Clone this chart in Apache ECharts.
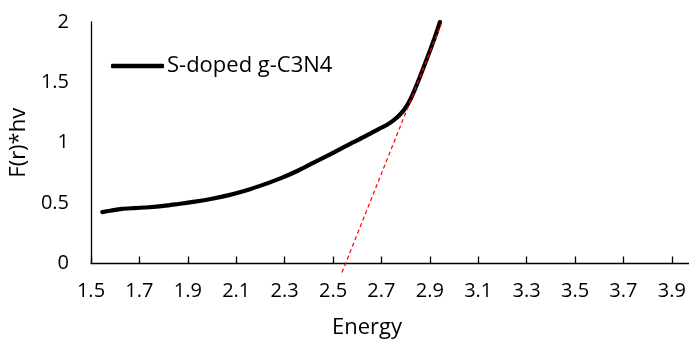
<!DOCTYPE html>
<html>
<head>
<meta charset="utf-8">
<script src="https://cdn.jsdelivr.net/npm/echarts@6/dist/echarts.min.js"></script>
<style>
html,body{margin:0;padding:0;background:#fff;}
#chart{width:689px;height:340px;}
</style>
</head>
<body>
<div id="chart"></div>
<script>
const seriesName = 'S-doped g-C3N4';
const energy = [1.547, 1.58, 1.627, 1.68, 1.74, 1.80, 1.861, 1.93, 2.00, 2.07, 2.14, 2.21, 2.28, 2.35, 2.42, 2.49, 2.557, 2.63, 2.69, 2.72, 2.75, 2.78, 2.80, 2.82, 2.84, 2.86, 2.88, 2.90, 2.92, 2.942];
const frhv = [0.426, 0.437, 0.452, 0.459, 0.466, 0.477, 0.493, 0.512, 0.536, 0.566, 0.604, 0.651, 0.703, 0.764, 0.835, 0.906, 0.977, 1.05, 1.115, 1.145, 1.185, 1.24, 1.29, 1.36, 1.45, 1.55, 1.655, 1.76, 1.87, 2.0];
const tangentX = [2.537, 2.949];
const tangentY = [-0.075, 1.994];
const xTicks = [1.5, 1.7, 1.9, 2.1, 2.3, 2.5, 2.7, 2.9, 3.1, 3.3, 3.5, 3.7, 3.9];
const yTicks = [0, 0.5, 1, 1.5, 2];

const font = '"Open Sans", sans-serif';
const chart = echarts.init(document.getElementById('chart'), null, {renderer: 'canvas'});
chart.setOption({
  animation: false,
  backgroundColor: '#fff',
  grid: {left: 91, right: 0, top: 22, bottom: 76.5, containLabel: false, outerBoundsMode: 'none'},
  legend: {
    data: [seriesName],
    icon: 'roundRect',
    left: 111, top: 55, padding: 0,
    itemWidth: 53, itemHeight: 4.5,
    itemGap: 0,
    itemStyle: {color: '#000', borderWidth: 0},
    textStyle: {fontFamily: font, fontSize: 22, color: '#000', padding: [0,0,0,-2]}
  },
  xAxis: {
    type: 'value', min: 1.5, max: 3.971,
    name: 'Energy', nameLocation: 'middle', nameGap: 53,
    nameTextStyle: {fontFamily: font, fontSize: 22, color: '#000', padding: [0, 46, 0, 0]},
    axisLine: {lineStyle: {color: '#000', width: 1.3}},
    axisTick: {show: true, inside: true, length: 7, lineStyle: {color: '#000', width: 1.3}, customValues: xTicks},
    axisLabel: {fontFamily: font, fontSize: 20, color: '#000', margin: 18, customValues: xTicks,
      formatter: v => v.toFixed(1)},
    splitLine: {show: false}
  },
  yAxis: {
    type: 'value', min: 0, max: 2, interval: 0.5,
    name: 'F(r)*hv', nameLocation: 'middle', nameGap: 53, nameRotate: 90,
    nameTextStyle: {fontFamily: font, fontSize: 22, color: '#000'},
    axisLine: {show: true, lineStyle: {color: '#000', width: 1.3}},
    axisTick: {show: false},
    axisLabel: {fontFamily: font, fontSize: 20, color: '#000', margin: 22, customValues: yTicks},
    splitLine: {show: false}
  },
  series: [
    {
      name: seriesName, type: 'line', smooth: 0.3, symbol: 'none', showSymbol: false,
      data: energy.map((x, i) => [x, frhv[i]]),
      lineStyle: {color: '#000', width: 4.2, cap: 'round', join: 'round'},
      itemStyle: {color: '#000'},
      z: 3
    },
    {
      name: 'tangent', type: 'line', symbol: 'none', showSymbol: false, clip: false,
      data: tangentX.map((x, i) => [x, tangentY[i]]),
      lineStyle: {color: '#ff0000', width: 1.2, type: [4, 3]},
      z: 4
    }
  ]
});
</script>
</body>
</html>
